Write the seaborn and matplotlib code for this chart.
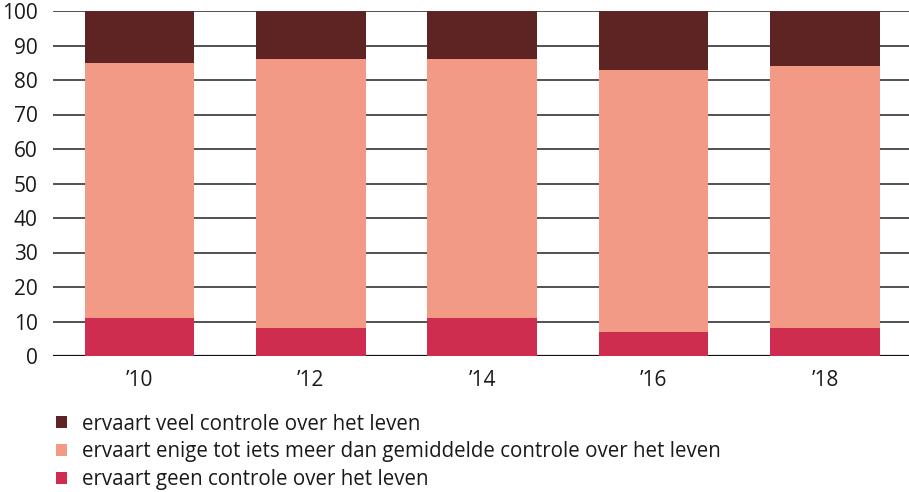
import matplotlib
matplotlib.use("Agg")
import matplotlib.pyplot as plt
import seaborn as sns
import pandas as pd
import numpy as np
from matplotlib.patches import Patch

years = ["\u201910", "\u201912", "\u201914", "\u201916", "\u201918"]
geen = [11, 8, 11, 7, 8]
enige = [74, 78, 75, 76, 76]
veel = [15, 14, 14, 17, 16]

labels = [
    "ervaart veel controle over het leven",
    "ervaart enige tot iets meer dan gemiddelde controle over het leven",
    "ervaart geen controle over het leven",
]
colors = ["#5E2323", "#F39A87", "#CE2D4F"]

sns.set_theme(style="white")
plt.rcParams["font.family"] = ["Open Sans", "DejaVu Sans"]

fig = plt.figure(figsize=(9.09, 4.92), dpi=100)
ax = fig.add_axes([53/909, 1-356/492, 1-53/909, (356-11)/492])

df = pd.DataFrame({"year": years, "geen": geen, "enige": enige, "veel": veel})
b1 = np.array(geen)
b2 = b1 + np.array(enige)
sns.barplot(data=df, x="year", y="geen", color=colors[2], width=0.64, ax=ax,
            saturation=1, zorder=3, linewidth=0)
sns.barplot(data=df, x="year", y="enige", bottom=b1, color=colors[1], width=0.64, ax=ax,
            saturation=1, zorder=3, linewidth=0)
sns.barplot(data=df, x="year", y="veel", bottom=b2, color=colors[0], width=0.64, ax=ax,
            saturation=1, zorder=3, linewidth=0)

ax.set_xlim(-0.505, 4.49)
ax.set_ylim(0, 100)
ax.set_yticks(range(0, 101, 10))
for y in range(0, 101, 10):
    ax.axhline(y, color="#333333" if y else "#111111", lw=1.2 if y else 1.6, zorder=1)
for s in ax.spines.values():
    s.set_visible(False)
ax.set_xlabel("")
ax.set_ylabel("")
ax.tick_params(axis="both", length=0, labelsize=15, colors="#1a1a1a")
ax.tick_params(axis="y", pad=11)
ax.tick_params(axis="x", pad=10)

handles = [Patch(facecolor=c, edgecolor="none") for c in colors]
fig.legend(handles, labels, loc="upper left", bbox_to_anchor=(0.041, 0.197),
           frameon=False, fontsize=14.8, handlelength=0.55, handleheight=0.55,
           handletextpad=0.75, labelspacing=0.33, labelcolor="#1a1a1a")

fig.savefig("out.png", dpi=100)
